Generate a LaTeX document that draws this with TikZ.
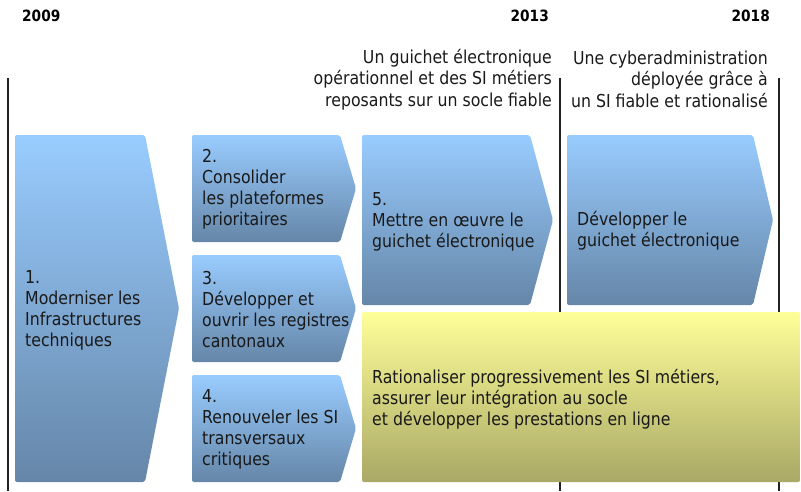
\documentclass[tikz,border=0pt]{standalone}
\usepackage{fontspec}
\setmainfont{DejaVu Sans}[FakeStretch=0.885]
\usetikzlibrary{positioning}
\definecolor{bleuH}{HTML}{99CCFF}
\definecolor{bleuB}{HTML}{6586A8}
\definecolor{jauneH}{HTML}{FFFF99}
\definecolor{jauneB}{HTML}{A9A866}
\definecolor{trait}{HTML}{222222}
% fleche : x gauche, y haut, x epaule, x pointe, y bas
\newcommand{\fleche}[5]{\shade[bleu] (#1,#2) -- (#3,#2) -- (#4,{(#2+#5)/2}) -- (#3,#5) -- (#1,#5) -- cycle;}
\begin{document}
\begin{tikzpicture}[x=1pt,y=-1pt,
	bleu/.style={top color=bleuH,bottom color=bleuB,rounded corners=2pt},
	jaune/.style={top color=jauneH,bottom color=jauneB,rounded corners=2pt},
	axe/.style={draw=trait,line width=1.2pt},
	txt/.style={inner sep=0pt,anchor=west,align=left,text=black!90,font=\fontsize{17.8}{21}\selectfont},
	titre/.style={inner sep=0pt,anchor=east,align=right,text=black!90,font=\fontsize{17.8}{21.5}\selectfont},
	annee/.style={inner sep=0pt,font=\bfseries\fontsize{15.5}{18}\selectfont}]
	\useasboundingbox (0,0) rectangle (801,491);
	\draw[axe] (8,78) -- (8,491);
	\draw[axe] (560,78) -- (560,491);
	\draw[axe] (779,78) -- (779,491);
	\node[annee,anchor=west] (a2009) at (22,16) {2009};
	\node[annee,anchor=east] (a2013) at (549,16) {2013};
	\node[annee,anchor=east] (a2018) at (770,16) {2018};
	\node[titre] (obj1) at (552,79.5) {Un guichet électronique\\opérationnel et des SI métiers\\reposants sur un socle fiable};
	\node[titre] (obj2) at (768,79) {Une cyberadministration\\déployée grâce à\\un SI fiable et rationalisé};
	\fleche{15}{135}{145}{179}{482}
	\fleche{192}{135}{340}{356}{242}
	\fleche{192}{255}{340}{356}{362}
	\fleche{192}{375}{340}{356}{482}
	\fleche{362}{135}{530}{553}{305}
	\fleche{567}{135}{753}{773}{305}
	\shade[jaune] (362,312) rectangle (800,482);
	\node[txt] (t1) at (25,310) {1.\\Moderniser les\\Infrastructures\\techniques};
	\node[txt] (t2) at (202,189) {2.\\Consolider\\les plateformes\\prioritaires};
	\node[txt] (t3) at (202,310) {3.\\Développer et\\ouvrir les registres\\cantonaux};
	\node[txt] (t4) at (202,429) {4.\\Renouveler les SI\\transversaux\\critiques};
	\node[txt] (t5) at (372,222) {5.\\Mettre en œuvre le\\guichet électronique};
	\node[txt] (t6) at (577,231) {Développer le\\guichet électronique};
	\node[txt] (t7) at (372,399) {Rationaliser progressivement les SI métiers,\\assurer leur intégration au socle\\et développer les prestations en ligne};
\end{tikzpicture}
\end{document}
